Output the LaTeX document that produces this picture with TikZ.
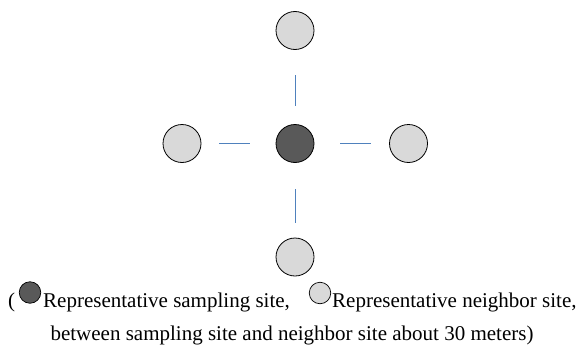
\documentclass[tikz,border=0pt]{standalone}
\usepackage{fontspec}
\setmainfont{Liberation Serif}
\definecolor{darksite}{HTML}{595959}
\definecolor{lightsite}{HTML}{D9D9D9}
\definecolor{linkblue}{HTML}{4F81BD}
\begin{document}
\begin{tikzpicture}[x=1pt,y=-1pt,
  site/.style={circle,draw=black,line width=0.8pt,minimum size=38pt,inner sep=0pt},
  samp/.style={site,fill=darksite},
  neigh/.style={site,fill=lightsite},
  icon/.style={circle,draw=black,line width=0.7pt,minimum size=21.5pt,inner sep=0pt},
  link/.style={draw=linkblue,line width=0.9pt},
  txt/.style={inner sep=0pt,font=\fontsize{21}{25}\selectfont}]
\useasboundingbox (0,0) rectangle (583,348);
\node[samp] (c) at (295,143.5) {};
\node[neigh] (t) at (295,30.5) {};
\node[neigh] (l) at (182,143.5) {};
\node[neigh] (r) at (408.5,143.5) {};
\node[neigh] (b) at (295,257) {};
\draw[link,shorten <=25.5pt,shorten >=18pt] (t) -- (c);
\draw[link,shorten <=18pt,shorten >=26pt] (l) -- (c);
\draw[link,shorten <=26pt,shorten >=18pt] (c) -- (r);
\draw[link,shorten <=26.5pt,shorten >=15pt] (c) -- (b);
% legend
\node[txt,anchor=base west] (paren) at (8,307) {(};
\node[icon,fill=darksite] (ic1) at (30,292.5) {};
\node[txt,anchor=base west] (t1) at (43,307) {Representative sampling site,};
\node[icon,fill=lightsite] (ic2) at (320,293) {};
\node[txt,anchor=base west] (t2) at (332,307) {Representative neighbor site,};
\node[txt,anchor=base] (t3) at (292,340.5) {between sampling site and neighbor site about 30 meters)};
\end{tikzpicture}
\end{document}
